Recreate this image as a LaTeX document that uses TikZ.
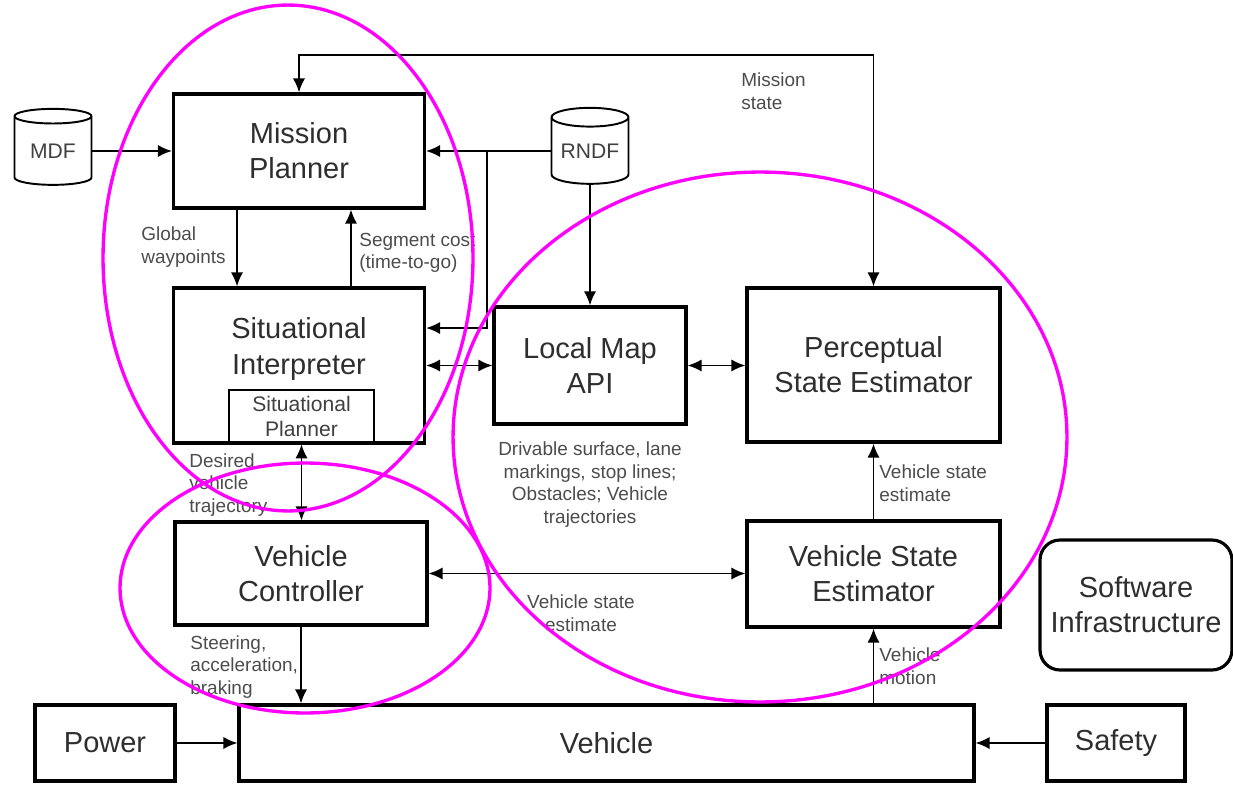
\documentclass[tikz,border=0pt]{standalone}
\usepackage{fontspec}
\setmainfont{Liberation Sans}
\usetikzlibrary{arrows.meta,positioning,shapes.geometric}

\definecolor{ring}{RGB}{255,0,255}

\begin{document}
\begin{tikzpicture}[x=0.02cm, y=-0.02cm,
    blk/.style={draw, line width=1.8pt, text=black!82, align=center, inner sep=0pt,
                font=\fontsize{16.5}{20}\selectfont},
    sub/.style={draw, line width=1.4pt, text=black!75, align=center, inner sep=0pt,
                font=\fontsize{12}{14}\selectfont},
    drum/.style={draw, line width=1.1pt, cylinder, shape border rotate=90, aspect=0.32,
                 minimum width=1.54cm, minimum height=1.52cm, inner sep=0pt,
                 text=black!75, font=\fontsize{12}{14}\selectfont},
    lbl/.style={text=black!70, align=left, anchor=west, inner sep=0pt,
                font=\fontsize{10.8}{12.8}\selectfont},
    flow/.style={line width=1.1pt, -{Latex[length=8pt,width=7pt]}},
    both/.style={line width=1.1pt, {Latex[length=8pt,width=7pt]}-{Latex[length=8pt,width=7pt]}},
    loop/.style={draw=ring, line width=1.9pt}]

\useasboundingbox (0,0) rectangle (1233,784);

% planning side
\node[blk, minimum width=5.02cm, minimum height=2.28cm] (MP) at (299,151) {Mission\\Planner};
\node[blk, minimum width=5.02cm, minimum height=3.10cm] (SI) at (299,365.5) {};
\node[blk, draw=none] (SItxt) at (299,349) {Situational\\Interpreter};
\node[sub, minimum width=2.90cm, minimum height=1.06cm] (SP) at (301.5,416.5) {Situational\\Planner};
\node[blk, minimum width=5.04cm, minimum height=2.06cm] (VC) at (301,573.5) {Vehicle\\Controller};

% perception side
\node[blk, minimum width=3.84cm, minimum height=2.34cm] (LMA) at (590,365.5) {Local Map\\API};
\node[blk, minimum width=5.06cm, minimum height=3.08cm] (PSE) at (873.5,365) {Perceptual\\State Estimator};
\node[blk, minimum width=5.06cm, minimum height=2.12cm] (VSE) at (873.5,574) {Vehicle State\\Estimator};

% bottom row
\node[blk, minimum width=14.70cm, minimum height=1.52cm] (Veh) at (606.5,743) {Vehicle};
\node[blk, minimum width=2.80cm, minimum height=1.52cm] (Pow) at (105,743) {Power};
\node[blk, minimum width=2.76cm, minimum height=1.52cm] (Saf) at (1116,743) {Safety};
\node[blk, rounded corners=0.4cm, minimum width=3.84cm, minimum height=2.60cm] (SWI) at (1136,605) {Software\\Infrastructure};

% data files
\node[drum] (MDF) at (53,151) {MDF};
\node[drum] (RNDF) at (590,151) {RNDF};

\coordinate (top) at (0,55);
\coordinate (tap) at (487,151);

\draw[flow] (MDF.east) -- (MDF.east -| MP.west);
\draw[flow] (RNDF.west) -- (RNDF.west -| MP.east);
\draw[flow] (tap) |- ([yshift=0.75cm]SI.east);
\draw[flow] (RNDF.south) -- (LMA.north);
\draw[both] (MP.north) |- (PSE.north |- top) -- (PSE.north);

\draw[flow] ([xshift=-1.24cm]MP.south) -- ([xshift=-1.24cm]MP.south |- SI.north);
\draw[flow] ([xshift=1.04cm]MP.south |- SI.north) -- ([xshift=1.04cm]MP.south);
\draw[both] (SI.east) -- (SI.east -| LMA.west);
\draw[both] (LMA.east) -- (LMA.east -| PSE.west);
\draw[flow] (VSE.north) -- (PSE.south);
\draw[both] (SP.south) -- (SP.south |- VC.north);
\draw[both] (VC.east) -- (VC.east -| VSE.west);
\draw[flow] (VC.south) -- (VC.south |- Veh.north);
\draw[flow] (VSE.south |- Veh.north) -- (VSE.south);
\draw[flow] (Pow) -- (Veh);
\draw[flow] (Saf) -- (Veh);

% connector labels
\node[lbl] (gw) at (141,247) {Global\\waypoints};
\node[lbl] (sc) at (359,253) {Segment cost\\(time-to-go)};
\node[lbl] (ms) at (741,91) {Mission\\state};
\node[lbl, align=center, anchor=north, below=0.32cm of LMA] (drv) {Drivable surface, lane\\markings, stop lines;\\Obstacles; Vehicle\\trajectories};
\node[lbl] (vse1) at (879,483) {Vehicle state\\estimate};
\node[lbl] (dvt) at (189,485) {Desired\\vehicle\\trajectory};
\node[lbl, align=center, anchor=center] (vse2) at (581,613) {Vehicle state\\estimate};
\node[lbl] (sab) at (190,667) {Steering,\\acceleration,\\braking};
\node[lbl] (vm) at (879,666) {Vehicle\\motion};

% groupings
\draw[loop] (288,258) ellipse [x radius=3.7cm, y radius=5.06cm];
\draw[loop] (305,588) ellipse [x radius=3.7cm, y radius=2.5cm];
\draw[loop] (760,437) ellipse [x radius=6.14cm, y radius=5.3cm];

\end{tikzpicture}
\end{document}
